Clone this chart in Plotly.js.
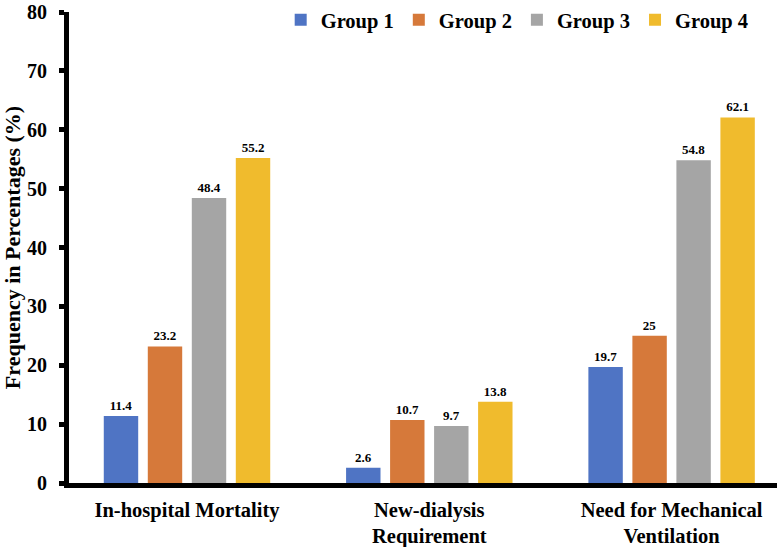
<!DOCTYPE html>
<html>
<head>
<meta charset="utf-8">
<script src="https://cdn.plot.ly/plotly-3.0.1.min.js"></script>
<style>
  html, body { margin: 0; padding: 0; background: #ffffff; }
  #chart { width: 777px; height: 547px; }
</style>
</head>
<body>
<div id="chart"></div>
<script>
const categories = ["In-hospital Mortality", "New-dialysis<br>Requirement", "Need for Mechanical<br>Ventilation"];
const seriesNames = ["Group 1", "Group 2", "Group 3", "Group 4"];
const group1 = [11.4, 2.6, 19.7];
const group2 = [23.2, 10.7, 25];
const group3 = [48.4, 9.7, 54.8];
const group4 = [55.2, 13.8, 62.1];
const yTicks = [0, 10, 20, 30, 40, 50, 60, 70, 80];

const colors = ["#4f74c4", "#d6793a", "#a5a5a5", "#f0bb2d"];
const FONT = "Liberation Serif";

const seriesValues = [group1, group2, group3, group4];
const traces = seriesValues.map((vals, i) => ({
  type: "bar",
  name: seriesNames[i],
  x: categories,
  y: vals,
  marker: { color: colors[i] },
  text: vals.map(v => String(v)),
  textposition: "outside",
  cliponaxis: false,
  constraintext: "none",
  textfont: { family: FONT, size: 13, color: "#000", weight: "bold" },
  hoverinfo: "x+y+name"
}));

const layout = {
  width: 777,
  height: 547,
  margin: { l: 69, r: 0, t: 9, b: 64, pad: 0 },
  paper_bgcolor: "#ffffff",
  plot_bgcolor: "#ffffff",
  font: { family: FONT, size: 20, color: "#000", weight: "bold" },
  barmode: "group",
  bargap: 0.2735,
  bargroupgap: 0.218,
  showlegend: true,
  legend: {
    orientation: "h",
    x: 0.299,
    xanchor: "left",
    y: 1.026,
    yanchor: "top",
    font: { family: FONT, size: 20.5, color: "#000", weight: "bold" },
    bgcolor: "rgba(0,0,0,0)",
    traceorder: "normal"
  },
  xaxis: {
    type: "category",
    range: [-0.487, 2.435],
    showline: true,
    linecolor: "#000",
    linewidth: 5,
    ticks: "",
    showgrid: false,
    zeroline: false,
    tickfont: { family: FONT, size: 20.5, color: "#000", weight: "bold" },
    ticklabelstandoff: 4,
    fixedrange: true
  },
  yaxis: {
    range: [0, 80],
    tickvals: yTicks,
    ticktext: yTicks.map(String),
    showline: true,
    linecolor: "#000",
    linewidth: 5,
    ticks: "outside",
    ticklen: 5,
    tickwidth: 5,
    tickcolor: "#000",
    showgrid: false,
    zeroline: false,
    ticklabeloverflow: "allow",
    tickfont: { family: FONT, size: 20, color: "#000", weight: "bold" },
    ticklabelstandoff: 8,
    title: {
      text: "Frequency in Percentages (%)",
      font: { family: FONT, size: 22, color: "#000", weight: "bold" },
      standoff: 4
    },
    fixedrange: true
  }
};

Plotly.newPlot("chart", traces, layout, { displayModeBar: false, staticPlot: true });
</script>
</body>
</html>
